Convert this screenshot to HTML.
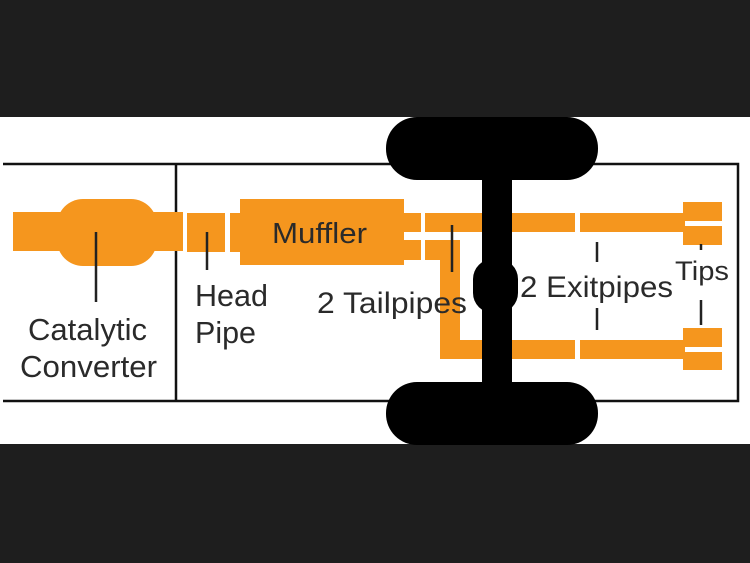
<!DOCTYPE html>
<html><head><style>
html,body{margin:0;padding:0;width:750px;height:563px;overflow:hidden;background:#1e1e1e}
svg{display:block}
text{font-family:"Liberation Sans",Arial,sans-serif;fill:#2a2a2a}
</style></head><body>
<svg width="750" height="563" viewBox="0 0 750 563">
<rect x="0" y="0" width="750" height="563" fill="#1e1e1e"/>
<rect x="0" y="117" width="750" height="327" fill="#fff"/>
<g fill="none" stroke="#111" stroke-width="2.5">
<polyline points="3,164 738,164 738,401 3,401"/>
<line x1="176" y1="164" x2="176" y2="401"/>
</g>
<g fill="#f5961e">
<rect x="13" y="212" width="170" height="39"/>
<rect x="57" y="199" width="100" height="67" rx="26"/>
<rect x="187" y="213" width="38" height="39"/>
<rect x="230" y="213" width="12" height="39"/>
<rect x="240" y="199" width="164" height="66"/>
<rect x="403" y="213" width="18" height="19"/>
<rect x="403" y="240" width="18" height="20"/>
<rect x="425" y="213" width="150" height="19"/>
<rect x="580" y="213" width="105" height="19"/>
<rect x="425" y="240" width="35" height="20"/>
<rect x="440" y="240" width="20" height="119"/>
<rect x="440" y="340" width="135" height="19"/>
<rect x="580" y="340" width="105" height="19"/>
<rect x="683" y="202" width="39" height="19"/>
<rect x="683" y="226" width="39" height="19"/>
<rect x="683" y="328" width="39" height="19"/>
<rect x="683" y="352" width="39" height="18"/>
</g>
<g fill="#000">
<rect x="386" y="117" width="212" height="63" rx="31"/>
<rect x="386" y="382" width="212" height="63" rx="31"/>
<rect x="482" y="160" width="30" height="240"/>
<rect x="473" y="259" width="45" height="54" rx="20"/>
</g>
<g stroke="#222" stroke-width="2.5">
<line x1="96" y1="232" x2="96" y2="302"/>
<line x1="207" y1="232" x2="207" y2="270"/>
<line x1="452" y1="225" x2="452" y2="272"/>
<line x1="597" y1="242" x2="597" y2="262"/>
<line x1="597" y1="308" x2="597" y2="330"/>
<line x1="701" y1="244" x2="701" y2="250"/>
<line x1="701" y1="300" x2="701" y2="325"/>
</g>
<text x="272" y="243" font-size="29" textLength="95" lengthAdjust="spacingAndGlyphs">Muffler</text>
<text x="28" y="340" font-size="31" textLength="119" lengthAdjust="spacingAndGlyphs">Catalytic</text>
<text x="20" y="377" font-size="31" textLength="137" lengthAdjust="spacingAndGlyphs">Converter</text>
<text x="195" y="306" font-size="31" textLength="73" lengthAdjust="spacingAndGlyphs">Head</text>
<text x="195" y="343" font-size="31" textLength="61" lengthAdjust="spacingAndGlyphs">Pipe</text>
<text x="317" y="313" font-size="30" textLength="150" lengthAdjust="spacingAndGlyphs">2 Tailpipes</text>
<text x="520" y="297" font-size="30" textLength="153" lengthAdjust="spacingAndGlyphs">2 Exitpipes</text>
<text x="675" y="280" font-size="27" textLength="54" lengthAdjust="spacingAndGlyphs">Tips</text>
</svg>
</body></html>
